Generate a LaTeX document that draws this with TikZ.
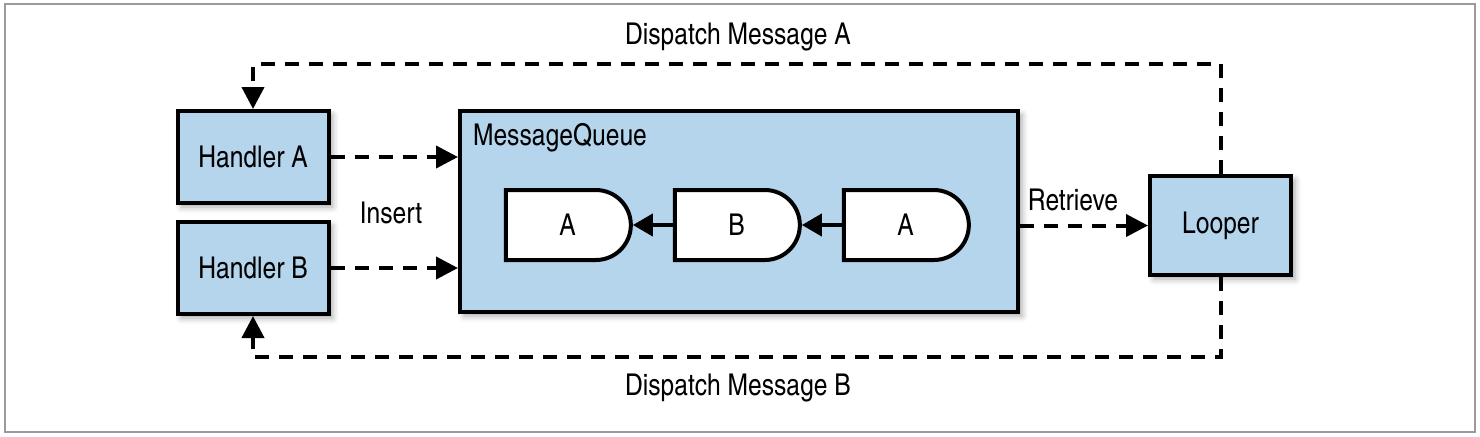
\documentclass[tikz,border=0pt]{standalone}
\usepackage{fontspec}
\setmainfont{texgyreheroscn}[Extension=.otf, UprightFont=*-regular, BoldFont=*-bold]
\usetikzlibrary{arrows.meta,shapes.misc,shadows.blur}
\definecolor{boxblue}{HTML}{B5D5EC}
\definecolor{framegray}{HTML}{9A9A9A}

\begin{document}
\begin{tikzpicture}[x=0.5pt,y=-0.5pt,
    font=\fontsize{15}{18}\selectfont,
    block/.style={rectangle, draw, line width=2pt, fill=boxblue, inner sep=0pt,
      blur shadow={shadow xshift=2pt, shadow yshift=-2pt, shadow blur radius=3pt, shadow opacity=35}},
    msgbox/.style={rounded rectangle, rounded rectangle west arc=none, draw, line width=2pt,
      fill=white, minimum width=62.5pt, minimum height=35pt, inner sep=0pt},
    flow/.style={dash pattern=on 7pt off 5pt, line width=2pt, -{Triangle[length=11pt,width=11pt]}},
    link/.style={line width=2pt, -{Triangle[length=10pt,width=11pt]}}]

        % Frame
        \useasboundingbox (0,0) rectangle (1480,436);
        \draw[framegray, line width=1pt] (5,4) rectangle (1475,432);

        % Nodes
        \node (hA) [block, minimum width=75.5pt, minimum height=46pt] at (253,157) {Handler A};
        \node (hB) [block, minimum width=75.5pt, minimum height=46pt] at (253,268) {Handler B};
        \node (mq) [block, minimum width=279pt, minimum height=100.5pt] at (739,211.5) {};
        \node (mqlabel) [anchor=west] at (466,138) {MessageQueue};
        \node (looper) [block, minimum width=70.5pt, minimum height=49.5pt] at (1220.5,225.5) {Looper};

        \node (m1) [msgbox] at (567.5,225) {A};
        \node (m2) [msgbox] at (736.5,225) {B};
        \node (m3) [msgbox] at (905.5,225) {A};

        % Labels
        \node (insert) at (391,213) {Insert};
        \node (retrieve) at (1073,200) {Retrieve};
        \node (dispA) at (738,37) {Dispatch Message A};
        \node (dispB) at (738,388) {Dispatch Message B};

        % Edges
        \draw[flow] (hA.east) -- (hA.east -| mq.west);
        \draw[flow] (hB.east) -- (hB.east -| mq.west);
        \draw[flow] (mq.east |- looper.west) -- (looper.west);
        \draw[link] (m3.west) -- (m2.east);
        \draw[link] (m2.west) -- (m1.east);
        \draw[flow] (looper.north) -- ++(0,-110) -| (hA.north);
        \draw[flow] (looper.south) -- ++(0,80) -| (hB.south);

\end{tikzpicture}
\end{document}
